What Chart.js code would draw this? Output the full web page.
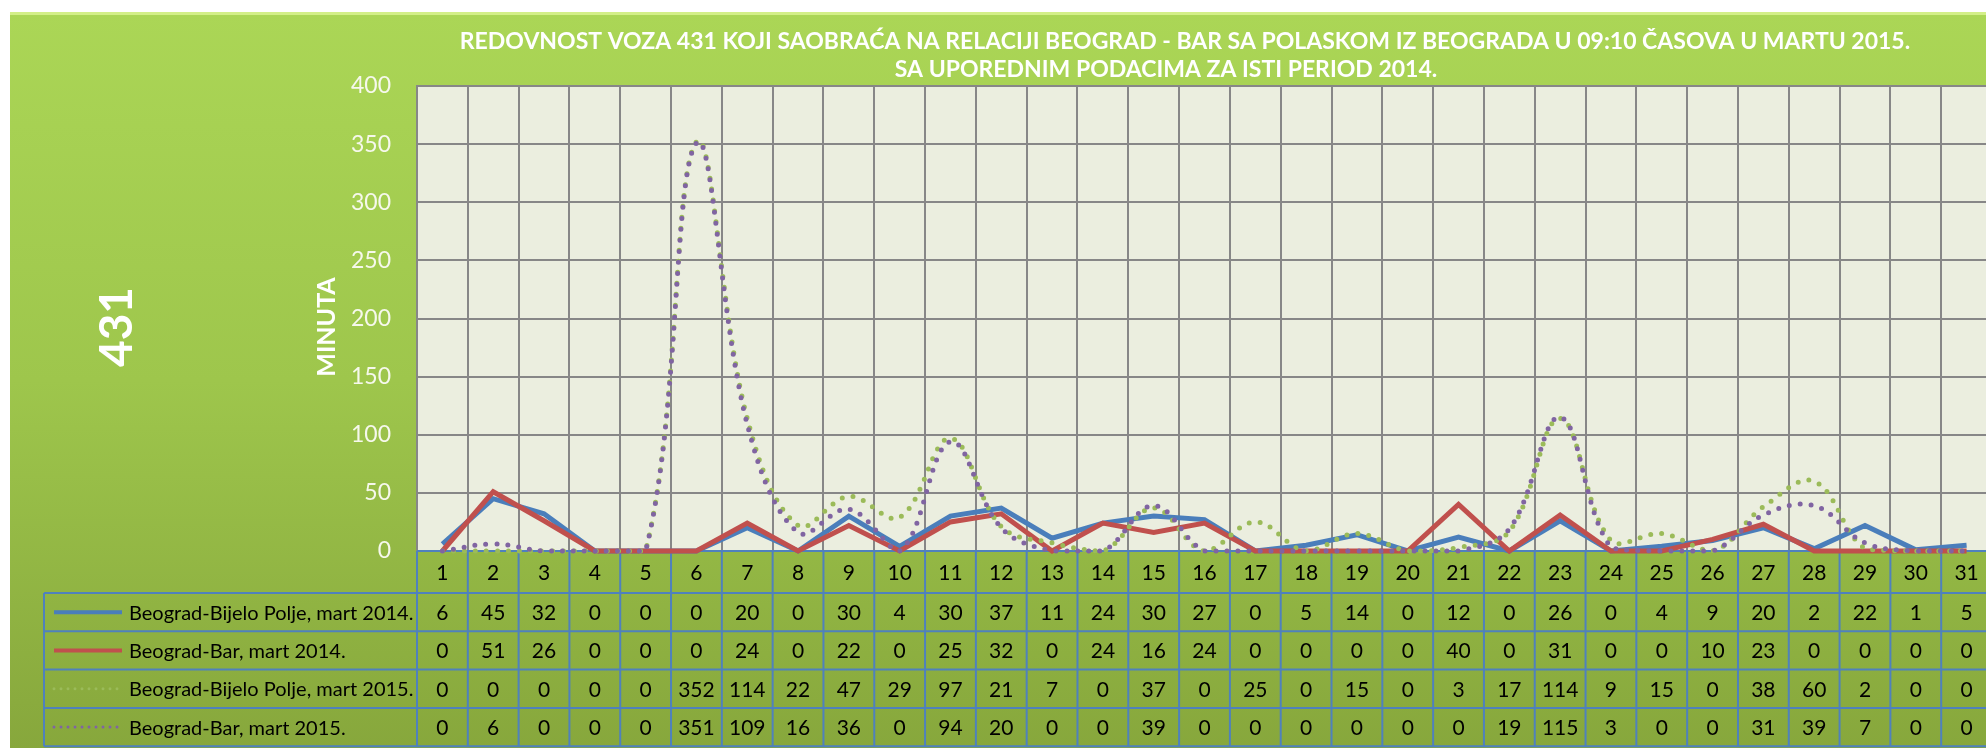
<!DOCTYPE html>
<html>
<head>
<meta charset="utf-8">
<script src="https://cdn.jsdelivr.net/npm/chart.js@4/dist/chart.umd.min.js"></script>
<style>
  html, body { margin: 0; padding: 0; overflow: hidden; background: #fff; }
  canvas { display: block; }
</style>
</head>
<body>
<canvas id="chart431" width="2000" height="749"></canvas>
<script>
// dani u martu
const days = ['1','2','3','4','5','6','7','8','9','10','11','12','13','14','15','16',
              '17','18','19','20','21','22','23','24','25','26','27','28','29','30','31'];

// kasnjenje u minutima
const bijeloPolje2014 = [6,45,32,0,0,0,20,0,30,4,30,37,11,24,30,27,0,5,14,0,12,0,26,0,4,9,20,2,22,1,5];
const bar2014         = [0,51,26,0,0,0,24,0,22,0,25,32,0,24,16,24,0,0,0,0,40,0,31,0,0,10,23,0,0,0,0];
const bijeloPolje2015 = [0,0,0,0,0,352,114,22,47,29,97,21,7,0,37,0,25,0,15,0,3,17,114,9,15,0,38,60,2,0,0];
const bar2015         = [0,6,0,0,0,351,109,16,36,0,94,20,0,0,39,0,0,0,0,0,0,19,115,3,0,0,31,39,7,0,0];

const seriesNames = [
  'Beograd-Bijelo Polje, mart 2014.',
  'Beograd-Bar, mart 2014.',
  'Beograd-Bijelo Polje, mart 2015.',
  'Beograd-Bar, mart 2015.'
];

const yMin = 0, yMax = 400, yStep = 50;

const titleLines = [
  'REDOVNOST VOZA 431 KOJI SAOBRAĆA NA RELACIJI BEOGRAD - BAR SA POLASKOM IZ BEOGRADA U 09:10 ČASOVA U MARTU 2015.',
  'SA UPOREDNIM PODACIMA ZA ISTI PERIOD 2014.'
];
const sideLabel = '431';
const axisTitle = 'MINUTA';

const FONT = 'Lato, "Open Sans", sans-serif';
const tableBlue = '#4f81bd';
const gridGray = '#878787';

// pozadina panela i plot area
const panelPlugin = {
  id: 'panel',
  beforeDraw(chart) {
    const { ctx, chartArea: a, width, height } = chart;
    ctx.save();
    ctx.fillStyle = '#ffffff';
    ctx.fillRect(0, 0, width, height);
    const g = ctx.createLinearGradient(0, 12, 0, height);
    g.addColorStop(0, '#abd656');
    g.addColorStop(0.5, '#9ec64c');
    g.addColorStop(1, '#87a73c');
    ctx.fillStyle = g;
    ctx.fillRect(10, 12, width - 10, height - 13);
    ctx.fillStyle = '#d3ef88';
    ctx.fillRect(10, 12, width - 10, 3);
    ctx.fillStyle = '#ebeedf';
    ctx.fillRect(a.left, a.top, a.right - a.left, a.bottom - a.top);
    ctx.restore();
  }
};

// tabela sa podacima ispod grafika (kao u Excelu)
const tablePlugin = {
  id: 'dataTable',
  beforeDatasetsDraw(chart) {
    const { ctx, chartArea: a, scales: { x } } = chart;
    const sets = chart.data.datasets;
    const headH = 42, rowH = 38.3, legendLeft = 44;
    const colW = (a.right - a.left) / days.length;
    const bottom = a.bottom + headH + rowH * sets.length;

    ctx.save();
    ctx.strokeStyle = tableBlue;
    ctx.lineWidth = 2;
    ctx.beginPath();
    // horizontalne linije
    ctx.moveTo(a.left, a.bottom); ctx.lineTo(a.right, a.bottom);
    for (let r = 0; r <= sets.length; r++) {
      const y = a.bottom + headH + r * rowH;
      ctx.moveTo(legendLeft, y); ctx.lineTo(a.right, y);
    }
    // vertikalne linije
    for (let i = 0; i <= days.length; i++) {
      const xx = a.left + i * colW;
      ctx.moveTo(xx, a.bottom); ctx.lineTo(xx, bottom);
    }
    ctx.moveTo(legendLeft, a.bottom + headH); ctx.lineTo(legendLeft, bottom);
    ctx.stroke();

    ctx.fillStyle = '#000';
    ctx.textAlign = 'center';
    ctx.textBaseline = 'middle';
    ctx.font = '21px ' + FONT;
    days.forEach((d, i) => {
      ctx.fillText(d, x.getPixelForValue(i), a.bottom + headH / 2 + 1);
    });

    sets.forEach((ds, r) => {
      const cy = a.bottom + headH + r * rowH + rowH / 2 + 1;
      ctx.font = '21px ' + FONT;
      ds.data.forEach((v, i) => {
        ctx.fillText(String(v), x.getPixelForValue(i), cy);
      });
      // uzorak linije
      ctx.save();
      ctx.strokeStyle = ds.borderColor;
      ctx.lineCap = ds.borderDash ? 'round' : 'butt';
      ctx.lineWidth = ds.borderDash ? 3 : 4;
      ctx.setLineDash(ds.borderDash ? [0, 7] : []);
      ctx.beginPath();
      ctx.moveTo(54, cy - 1); ctx.lineTo(122, cy - 1);
      ctx.stroke();
      ctx.restore();
      ctx.textAlign = 'left';
      ctx.font = '20px ' + FONT;
      ctx.fillText(ds.label, 129, cy);
      ctx.textAlign = 'center';
    });
    ctx.restore();
  },
  afterDraw(chart) {
    const { ctx } = chart;
    ctx.save();
    ctx.fillStyle = '#ffffff';
    ctx.textAlign = 'center';
    ctx.textBaseline = 'middle';
    ctx.font = 'bold 23px ' + FONT;
    ctx.fillText(titleLines[0], 1185, 42);
    ctx.fillText(titleLines[1], 1166, 70);

    ctx.save();
    ctx.translate(117, 327);
    ctx.rotate(-Math.PI / 2);
    ctx.font = 'bold 46px ' + FONT;
    ctx.fillText(sideLabel, 0, 0);
    ctx.restore();

    ctx.translate(327, 327);
    ctx.rotate(-Math.PI / 2);
    ctx.font = 'bold 25px ' + FONT;
    ctx.fillText(axisTitle, 0, 0);
    ctx.restore();
  }
};

const ctx = document.getElementById('chart431').getContext('2d');

new Chart(ctx, {
  type: 'line',
  data: {
    labels: days,
    datasets: [
      { label: seriesNames[0], data: bijeloPolje2014, borderColor: '#4a7ebb', borderWidth: 5, order: 3 },
      { label: seriesNames[1], data: bar2014, borderColor: '#c0504d', borderWidth: 5, order: 2 },
      { label: seriesNames[2], data: bijeloPolje2015, borderColor: '#9bbb59', borderWidth: 5,
        borderDash: [0, 11], borderCapStyle: 'round', tension: 0.38, order: 1 },
      { label: seriesNames[3], data: bar2015, borderColor: '#8064a2', borderWidth: 5,
        borderDash: [0, 11], borderCapStyle: 'round', tension: 0.38, order: 0 }
    ]
  },
  options: {
    responsive: false,
    animation: false,
    clip: false,
    elements: { point: { radius: 0 }, line: { tension: 0 } },
    layout: { padding: { left: 300, top: 86, right: 8, bottom: 0 } },
    plugins: {
      legend: { display: false },
      tooltip: { enabled: false }
    },
    scales: {
      x: {
        offset: true,
        ticks: { display: false },
        grid: { color: gridGray, lineWidth: 2, offset: true, drawTicks: false },
        border: { display: false },
        afterFit: (scale) => { scale.height = 198; }
      },
      y: {
        min: yMin,
        max: yMax,
        ticks: { stepSize: yStep, padding: 26, color: '#f6f8ec', font: { family: FONT, size: 23 } },
        grid: { color: gridGray, lineWidth: 2, drawTicks: false },
        border: { color: gridGray, width: 2 },
        afterFit: (scale) => { scale.width = 117; }
      }
    }
  },
  plugins: [panelPlugin, tablePlugin]
});
</script>
</body>
</html>
